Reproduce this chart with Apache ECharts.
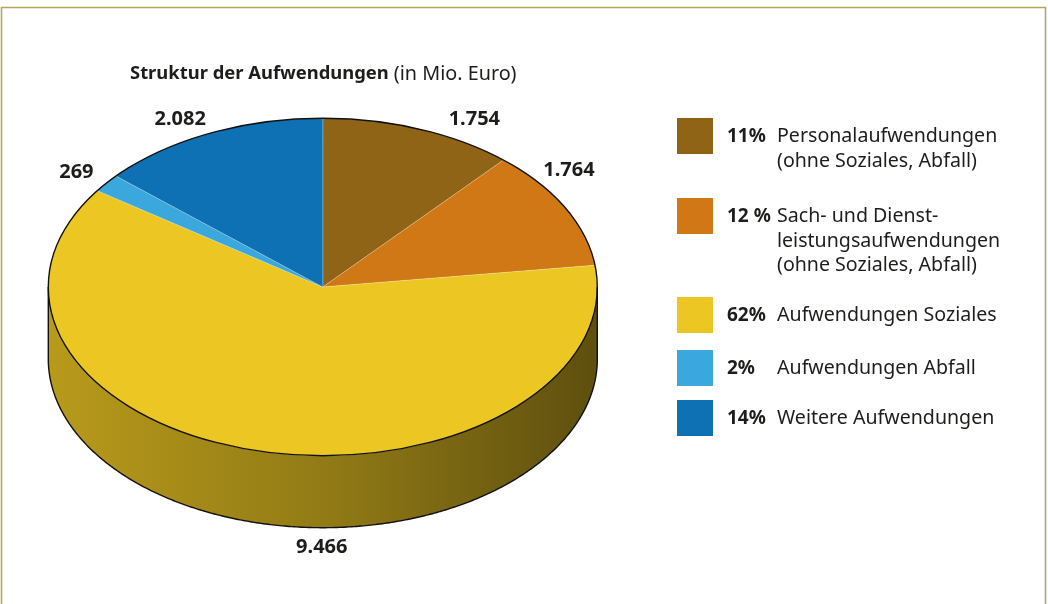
<!DOCTYPE html>
<html><head><meta charset="utf-8">
<script src="https://cdn.jsdelivr.net/npm/echarts/dist/echarts.min.js"></script>
<style>html,body{margin:0;padding:0;background:#fff}#c{width:1048px;height:604px}</style>
</head><body><div id="c"></div>
<script>
// ---- data ----
const categories = [
  'Personalaufwendungen\n(ohne Soziales, Abfall)',
  'Sach- und Dienst-\nleistungsaufwendungen\n(ohne Soziales, Abfall)',
  'Aufwendungen Soziales',
  'Aufwendungen Abfall',
  'Weitere Aufwendungen'
];
const values = [1754, 1764, 9466, 269, 2082];
const pctLabels = ['11%', '12 %', '62%', '2%', '14%'];
const colors = ['#8f6416', '#cf7815', '#ecc623', '#3aa8dc', '#0d71b3'];
const titleMain = 'Struktur der Aufwendungen';
const titleUnit = '(in Mio. Euro)';

// ---- layout (positions / styles) ----
const G = {cx: 322.8, cy: 287, rx: 274.5, ry: 168.7, depth: 72};
const labelNudge = [[55, -10], [4, -37], [64, 24], [-30, -11], [-29, -14]];
const legendTops = [118, 198, 297, 350, 400];
const FONT = '"Noto Sans", "Open Sans", sans-serif';
const TXT = '#1d1d1b';

const total = values.reduce((a, b) => a + b, 0);
const cum = []; let acc = 0; values.forEach(v => { cum.push(acc); acc += v; });
function fmt(v) { return String(v).replace(/\B(?=(\d{3})+(?!\d))/g, '.'); }
function pt(deg, dy) { const r = deg * Math.PI / 180; return [G.cx + G.rx * Math.sin(r), G.cy - G.ry * Math.cos(r) + (dy || 0)]; }
function arc(a0, a1, dy) { const n = Math.max(2, Math.ceil(Math.abs(a1 - a0) / 0.5)); const p = []; for (let k = 0; k <= n; k++) p.push(pt(a0 + (a1 - a0) * k / n, dy)); return p; }
function shade(hex, f) { const n = parseInt(hex.slice(1), 16); const r = Math.round(((n >> 16) & 255) * f), g = Math.round(((n >> 8) & 255) * f), b = Math.round((n & 255) * f); return 'rgb(' + r + ',' + g + ',' + b + ')'; }

function renderSlice(params, api) {
  const i = params.dataIndex; const v = api.value(0);
  const a0 = cum[i] / total * 360, a1 = (cum[i] + v) / total * 360;
  const children = [];
  const s0 = Math.max(a0, 90), s1 = Math.min(a1, 270);
  if (s1 > s0) {
    const top = arc(s0, s1, 0), bot = arc(s1, s0, G.depth);
    children.push({type: 'polygon', shape: {points: top.concat(bot)}, style: {
      fill: {type: 'linear', x: G.cx - G.rx, y: 0, x2: G.cx + G.rx, y2: 0, global: true,
        colorStops: [{offset: 0, color: shade(colors[i], 0.78)}, {offset: 0.5, color: shade(colors[i], 0.62)}, {offset: 1, color: shade(colors[i], 0.40)}]},
      stroke: null}});
  }
  children.push({type: 'polygon', shape: {points: [[G.cx, G.cy]].concat(arc(a0, a1, 0))},
    style: {fill: colors[i], stroke: 'rgba(255,255,255,0.35)', lineWidth: 0.6}});
  const mid = (a0 + a1) / 2;
  const front = mid > 90 && mid < 270;
  const p = pt(mid, front ? G.depth : 0);
  children.push({type: 'text', x: p[0] + labelNudge[i][0], y: p[1] + labelNudge[i][1], z2: 10,
    style: {text: fmt(v), align: 'center', verticalAlign: 'middle', fontSize: 20, fontWeight: 'bold', fontFamily: FONT, fill: TXT}});
  return {type: 'group', children: children};
}

function renderOutline() {
  const st = {fill: null, stroke: '#111', lineWidth: 1.4};
  return {type: 'group', children: [
    {type: 'ellipse', shape: {cx: G.cx, cy: G.cy, rx: G.rx, ry: G.ry}, style: st},
    {type: 'polyline', shape: {points: arc(90, 270, G.depth)}, style: st},
    {type: 'line', shape: {x1: G.cx - G.rx, y1: G.cy, x2: G.cx - G.rx, y2: G.cy + G.depth}, style: st},
    {type: 'line', shape: {x1: G.cx + G.rx, y1: G.cy, x2: G.cx + G.rx, y2: G.cy + G.depth}, style: st}
  ]};
}

const legendGraphics = [];
categories.forEach((c, i) => {
  const t = legendTops[i];
  legendGraphics.push({type: 'rect', shape: {x: 677, y: t, width: 36, height: 36}, style: {fill: colors[i]}});
  legendGraphics.push({type: 'text', x: 727, y: t + 18.5, style: {text: pctLabels[i], fontSize: 19, fontWeight: 'bold', fontFamily: FONT, fill: TXT, verticalAlign: 'middle'}});
  legendGraphics.push({type: 'text', x: 777, y: t + 18.5 - 12.25, style: {text: c, fontSize: 19.6, lineHeight: 24.5, fontFamily: FONT, fill: TXT, verticalAlign: 'top'}});
});

const chart = echarts.init(document.getElementById('c'), null, {renderer: 'canvas'});
chart.setOption({
  animation: false,
  backgroundColor: '#fff',
  title: {
    text: '{b|' + titleMain + '} {r|' + titleUnit + '}',
    left: 125, top: 59,
    textStyle: {rich: {
      b: {fontSize: 18.4, fontWeight: 'bold', fontFamily: FONT, color: TXT},
      r: {fontSize: 19.8, fontWeight: 'normal', fontFamily: FONT, color: TXT}
    }}
  },
  graphic: [
    {type: 'rect', shape: {x: 1.5, y: 7.5, width: 1044, height: 640}, style: {fill: null, stroke: '#b3a661', lineWidth: 1.6}, silent: true}
  ].concat(legendGraphics),
  series: [
    {type: 'custom', coordinateSystem: 'none', renderItem: renderSlice,
      data: values.map((v, i) => ({name: categories[i], value: [v]}))},
    {type: 'custom', coordinateSystem: 'none', renderItem: renderOutline, z: 5, data: [[0]]}
  ]
});
</script></body></html>
